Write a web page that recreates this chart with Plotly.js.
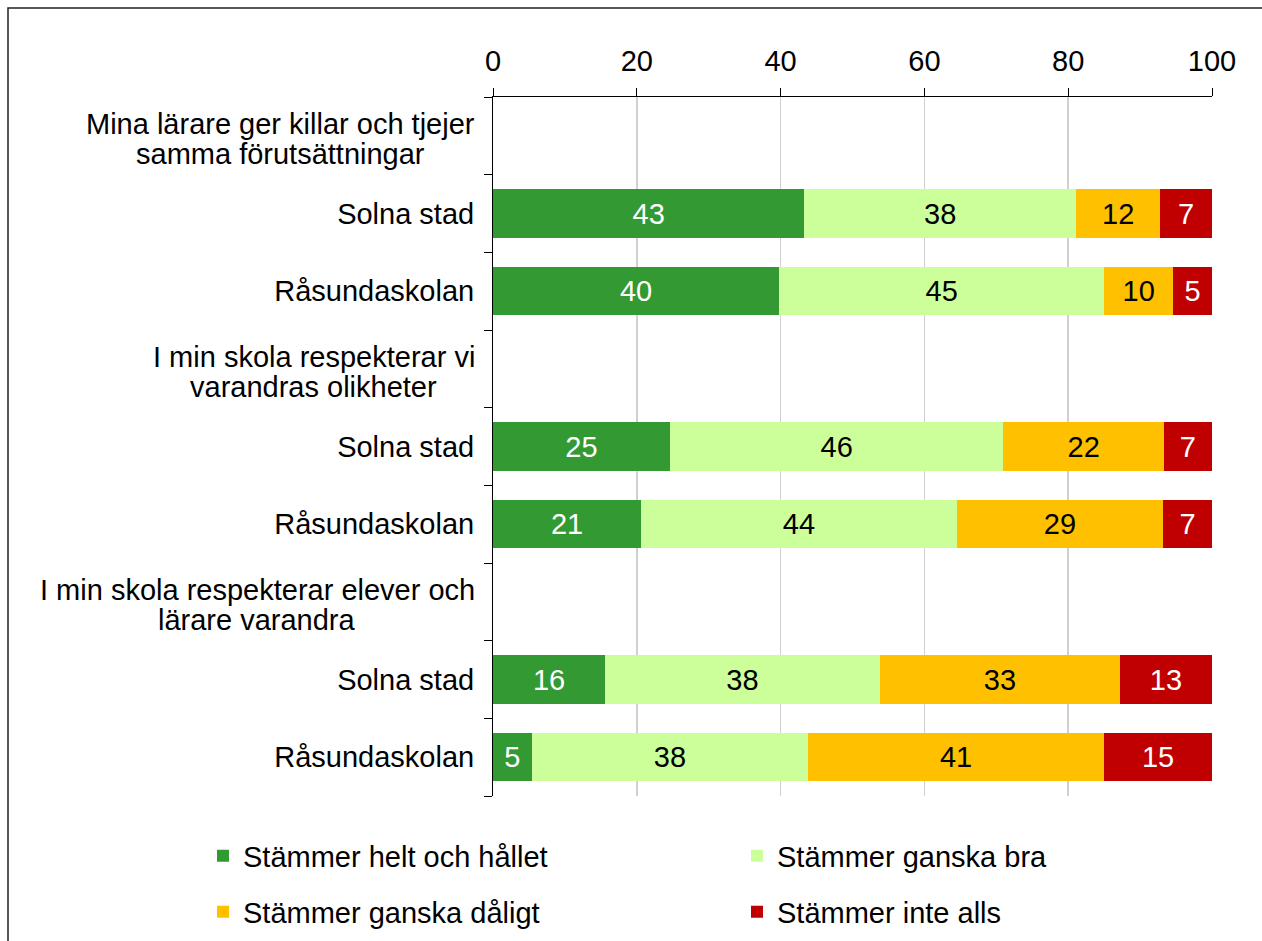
<!DOCTYPE html>
<html>
<head>
<meta charset="utf-8">
<script src="https://cdn.plot.ly/plotly-3.0.1.min.js"></script>
<style>
html,body{margin:0;padding:0;background:#fff;}
#chart{width:1262px;height:941px;}
</style>
</head>
<body>
<div id="chart"></div>
<script>
// Rows from top to bottom; question headers have no bars
const rowLabels = [
  ["Mina lärare ger killar och tjejer", "samma förutsättningar"],
  ["Solna stad"],
  ["Råsundaskolan"],
  ["I min skola respekterar vi", "varandras olikheter"],
  ["Solna stad"],
  ["Råsundaskolan"],
  ["I min skola respekterar elever och", "lärare varandra"],
  ["Solna stad"],
  ["Råsundaskolan"]
];
const isQuestion = [true, false, false, true, false, false, true, false, false];

const seriesNames = ["Stämmer helt och hållet", "Stämmer ganska bra", "Stämmer ganska dåligt", "Stämmer inte alls"];
const helt   = [null, 43.3, 39.8, null, 24.6, 20.6, null, 15.6, 5.4];
const bra    = [null, 37.8, 45.2, null, 46.4, 43.9, null, 38.2, 38.4];
const daligt = [null, 11.7, 9.6,  null, 22.3, 28.7, null, 33.4, 41.2];
const inte   = [null, 7.2,  5.4,  null, 6.7,  6.8,  null, 12.8, 15.0];

const xTicks = [0, 20, 40, 60, 80, 100];

const colors = ["#339933", "#CCFF99", "#FFC000", "#C00000"];
const textColors = ["#ffffff", "#000000", "#000000", "#ffffff"];
const FONT = "Arial, 'Liberation Sans', sans-serif";
const FS = 29;

const rowIdx = rowLabels.map((_, i) => i);
const allSeries = [helt, bra, daligt, inte];
const legendIds = ["legend", "legend2", "legend3", "legend4"];

const traces = allSeries.map((vals, k) => ({
  type: "bar",
  orientation: "h",
  name: seriesNames[k],
  x: vals,
  y: rowIdx,
  marker: {color: colors[k], line: {width: 0}},
  text: vals.map(v => v == null ? "" : String(Math.round(v))),
  texttemplate: "%{text}",
  textposition: "inside",
  insidetextanchor: "middle",
  textangle: 0,
  constraintext: "none",
  textfont: {family: FONT, size: FS, color: textColors[k]},
  legend: legendIds[k],
  hoverinfo: "skip"
}));

// dummy trace to carry the boundary-tick axis
traces.push({type: "scatter", x: [null], y: [null], yaxis: "y2", showlegend: false, hoverinfo: "skip", mode: "markers"});

const boundaries = [];
for (let i = 0; i <= rowLabels.length; i++) boundaries.push(i - 0.5);

// measure text to center two-line question labels
const cv = document.createElement("canvas").getContext("2d");
cv.font = FS + "px Arial, 'Liberation Sans', sans-serif";
const annotations = [];
rowLabels.forEach((lines, i) => {
  if (!isQuestion[i]) return;
  const w = Math.max(...lines.map(l => cv.measureText(l).width));
  const shifts = [12, -18];
  lines.forEach((l, j) => {
    annotations.push({
      xref: "paper", yref: "y", x: 0, y: i, xshift: -18 - w / 2, yshift: shifts[j],
      xanchor: "center", yanchor: "middle", align: "center",
      text: l, showarrow: false,
      font: {family: FONT, size: FS, color: "#000"}
    });
  });
});

// legend entries: 2 columns x 2 rows, placed in container pixels
const legendCols = [203, 737];
const legendRows = [856, 912];
function legendBox(k) {
  return {
    orientation: "h", xref: "container", yref: "container",
    x: legendCols[k % 2] / 1262, xanchor: "left",
    y: 1 - legendRows[Math.floor(k / 2)] / 941, yanchor: "middle",
    font: {family: FONT, size: FS, color: "#000"}, bgcolor: "rgba(0,0,0,0)"
  };
}

const layout = {
  width: 1262, height: 941,
  margin: {l: 493, r: 50, t: 97, b: 145},
  paper_bgcolor: "#fff", plot_bgcolor: "#fff",
  barmode: "stack",
  bargap: 0.38,
  font: {family: FONT, size: FS, color: "#000"},
  xaxis: {
    side: "top", range: [0, 100], tickvals: xTicks, ticktext: xTicks.map(String),
    ticks: "outside", ticklen: 8, tickcolor: "#000", tickwidth: 1,
    showline: true, linecolor: "#000", linewidth: 1,
    showgrid: true, gridcolor: "#d0d0d0", gridwidth: 1.5, zeroline: false,
    tickfont: {family: FONT, size: FS, color: "#000"},
    ticklabelstandoff: 5, fixedrange: true
  },
  yaxis: {
    range: [rowLabels.length - 0.5, -0.5],
    tickvals: rowIdx, ticktext: rowLabels.map((t, i) => isQuestion[i] ? "" : t[0]),
    ticks: "", showline: true, linecolor: "#000", linewidth: 1,
    showgrid: false, zeroline: false,
    tickfont: {family: FONT, size: FS, color: "#000"},
    ticklabelstandoff: 12, fixedrange: true
  },
  yaxis2: {
    overlaying: "y", side: "left", range: [rowLabels.length - 0.5, -0.5],
    tickvals: boundaries, ticks: "outside", ticklen: 8, tickcolor: "#000", tickwidth: 1,
    showticklabels: false, showline: false, showgrid: false, zeroline: false, fixedrange: true
  },
  legend: legendBox(0),
  legend2: legendBox(1),
  legend3: legendBox(2),
  legend4: legendBox(3),
  annotations: annotations,
  shapes: [{
    type: "rect", xref: "paper", yref: "paper",
    x0: (8 - 493) / 719, x1: 1.2, y0: -0.3, y1: 1 + (97 - 8) / 699,
    line: {color: "#222", width: 1.5}, fillcolor: "rgba(0,0,0,0)", layer: "below"
  }]
};

Plotly.newPlot("chart", traces, layout, {displayModeBar: false, staticPlot: true});
</script>
</body>
</html>
